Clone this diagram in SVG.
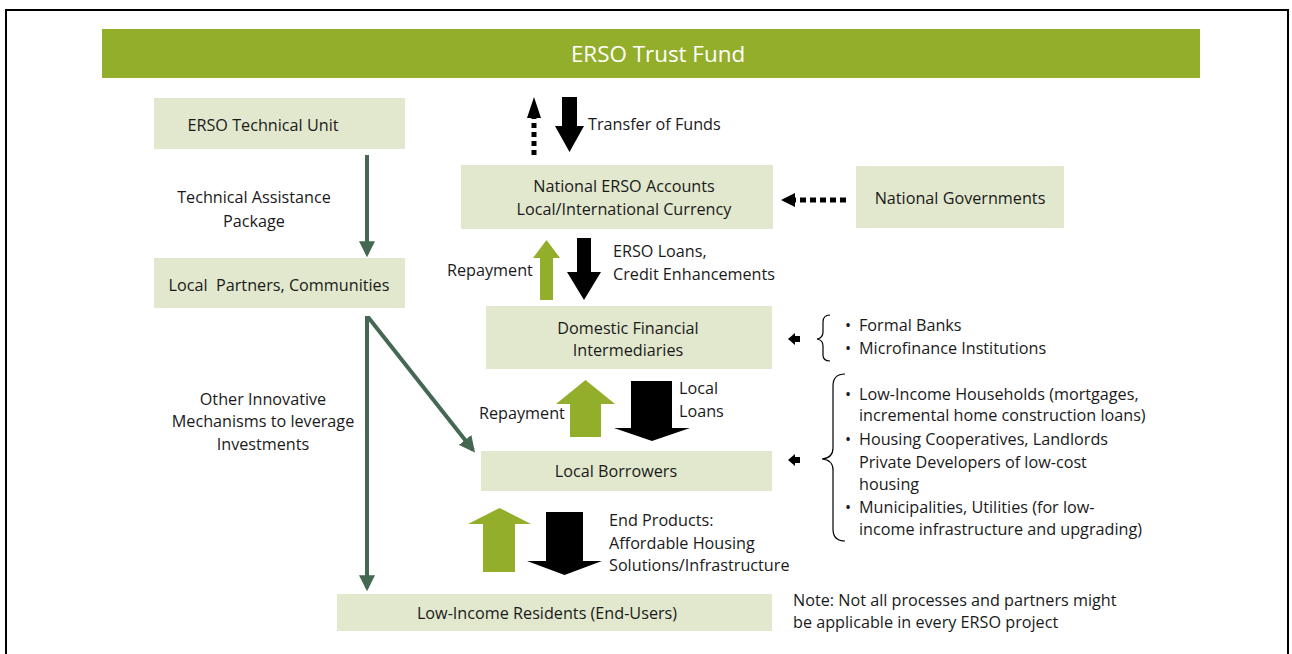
<svg xmlns="http://www.w3.org/2000/svg" width="1292" height="654" viewBox="0 0 1292 654">
<style>
.box{fill:#E2E8CD}
text{font-family:"Open Sans","Noto Sans",sans-serif;font-size:16.2px;fill:#1a1a1a}
.c{text-anchor:middle}
.title{fill:#fff;font-size:22.4px}
.gl{stroke:#456852;stroke-width:4;fill:none}
</style>
<defs>
<marker id="gh" viewBox="0 0 10 10" refX="8" refY="5" markerWidth="4" markerHeight="4" orient="auto" markerUnits="strokeWidth">
<path d="M0,0 L10,5 L0,10 z" fill="#456852"/>
</marker>
</defs>
<rect x="6" y="10" width="1282" height="660" fill="#fff" stroke="#000" stroke-width="2"/>
<g id="trust-fund">
<rect x="102" y="29" width="1098" height="49" fill="#93AE2B"/>
<text class="c title" x="658" y="62">ERSO Trust Fund</text>
</g>
<g id="technical-unit">
<rect class="box" x="154" y="98" width="251" height="51"/>
<text class="c" x="263" y="131">ERSO Technical Unit</text>
</g>
<g id="local-partners">
<rect class="box" x="154" y="258" width="251" height="50"/>
<text class="c" x="279" y="291" xml:space="preserve">Local  Partners, Communities</text>
</g>
<g id="national-accounts">
<rect class="box" x="461" y="165" width="312" height="64"/>
<text class="c" x="624" y="192">National ERSO Accounts</text>
<text class="c" x="624" y="215">Local/International Currency</text>
</g>
<g id="national-governments">
<rect class="box" x="856" y="166" width="208" height="62"/>
<text class="c" x="960" y="204">National Governments</text>
</g>
<g id="domestic-fi">
<rect class="box" x="486" y="306" width="286" height="63"/>
<text class="c" x="628" y="334">Domestic Financial</text>
<text class="c" x="628" y="356">Intermediaries</text>
</g>
<g id="local-borrowers">
<rect class="box" x="481" y="451" width="291" height="40"/>
<text class="c" x="616" y="477">Local Borrowers</text>
</g>
<g id="low-income-residents">
<rect class="box" x="337" y="594" width="435" height="37"/>
<text class="c" x="547" y="619">Low-Income Residents (End-Users)</text>
</g>
<g id="connectors">
<line class="gl" x1="367" y1="155" x2="367" y2="254" marker-end="url(#gh)"/>
<line class="gl" x1="367" y1="316" x2="367" y2="588" marker-end="url(#gh)"/>
<line class="gl" x1="368" y1="317" x2="473" y2="450" marker-end="url(#gh)"/>
<line x1="534" y1="155" x2="534" y2="116" stroke="#000" stroke-width="5" stroke-dasharray="5,4"/>
<path d="M527,118 L534,97 L541,118 z" fill="#000"/>
<path d="M562,97 H577 V126 H584 L569.5,152 L555,126 H562 z" fill="#000"/>
<line x1="846" y1="200" x2="794" y2="200" stroke="#000" stroke-width="5" stroke-dasharray="6,4"/>
<path d="M795,193 L781,200 L795,207 z" fill="#000"/>
<path d="M540,300 V258 H533 L546.5,240 L560,258 H553 V300 z" fill="#93AE2B"/>
<path d="M577,238 H591 V272 H601 L584,300 L567,272 H577 z" fill="#000"/>
<path d="M570,437 V404 H556 L585.5,380 L615,404 H601 V437 z" fill="#93AE2B"/>
<path d="M631,381 H672 V428 H690 L652,441 L614,428 H631 z" fill="#000"/>
<path d="M483,572 V524 H468 L499.5,508 L531,524 H515 V572 z" fill="#93AE2B"/>
<path d="M546,512 H583 V561 H602 L564.5,575 L527,561 H546 z" fill="#000"/>
<path d="M788,339 L795,333 V336 H800 V342 H795 V345 z" fill="#000"/>
<path d="M788,460 L795,454 V457 H800 V463 H795 V466 z" fill="#000"/>
<path d="M830,315 Q823,315 823,322 V332 Q823,338 817,339 Q823,340 823,346 V355 Q823,361 830,361" fill="none" stroke="#000" stroke-width="1.2"/>
<path d="M845,374 Q833,374 833,386 V448 Q833,458 822,459 Q833,460 833,470 V529 Q833,541 845,541" fill="none" stroke="#000" stroke-width="1.2"/>
</g>
<g id="labels">
<text class="c" x="254" y="203">Technical Assistance</text>
<text class="c" x="254" y="227">Package</text>
<text class="c" x="263" y="405">Other Innovative</text>
<text class="c" x="263" y="427">Mechanisms to leverage</text>
<text class="c" x="263" y="450">Investments</text>
<text x="588" y="130">Transfer of Funds</text>
<text x="447" y="276">Repayment</text>
<text x="613" y="257">ERSO Loans,</text>
<text x="613" y="280">Credit Enhancements</text>
<text x="479" y="419">Repayment</text>
<text x="679" y="394">Local</text>
<text x="679" y="417">Loans</text>
<text x="609" y="526">End Products:</text>
<text x="609" y="549">Affordable Housing</text>
<text x="609" y="571">Solutions/Infrastructure</text>
<text x="845" y="331">•</text><text x="859" y="331">Formal Banks</text>
<text x="845" y="354">•</text><text x="859" y="354">Microfinance Institutions</text>
<text x="845" y="400">•</text><text x="859" y="400">Low-Income Households (mortgages,</text>
<text x="859" y="421">incremental home construction loans)</text>
<text x="845" y="445">•</text><text x="859" y="445">Housing Cooperatives, Landlords</text>
<text x="859" y="468">Private Developers of low-cost</text>
<text x="859" y="490">housing</text>
<text x="845" y="513">•</text><text x="859" y="513">Municipalities, Utilities (for low-</text>
<text x="859" y="535">income infrastructure and upgrading)</text>
<text x="793" y="606">Note: Not all processes and partners might</text>
<text x="793" y="628">be applicable in every ERSO project</text>
</g>
</svg>
